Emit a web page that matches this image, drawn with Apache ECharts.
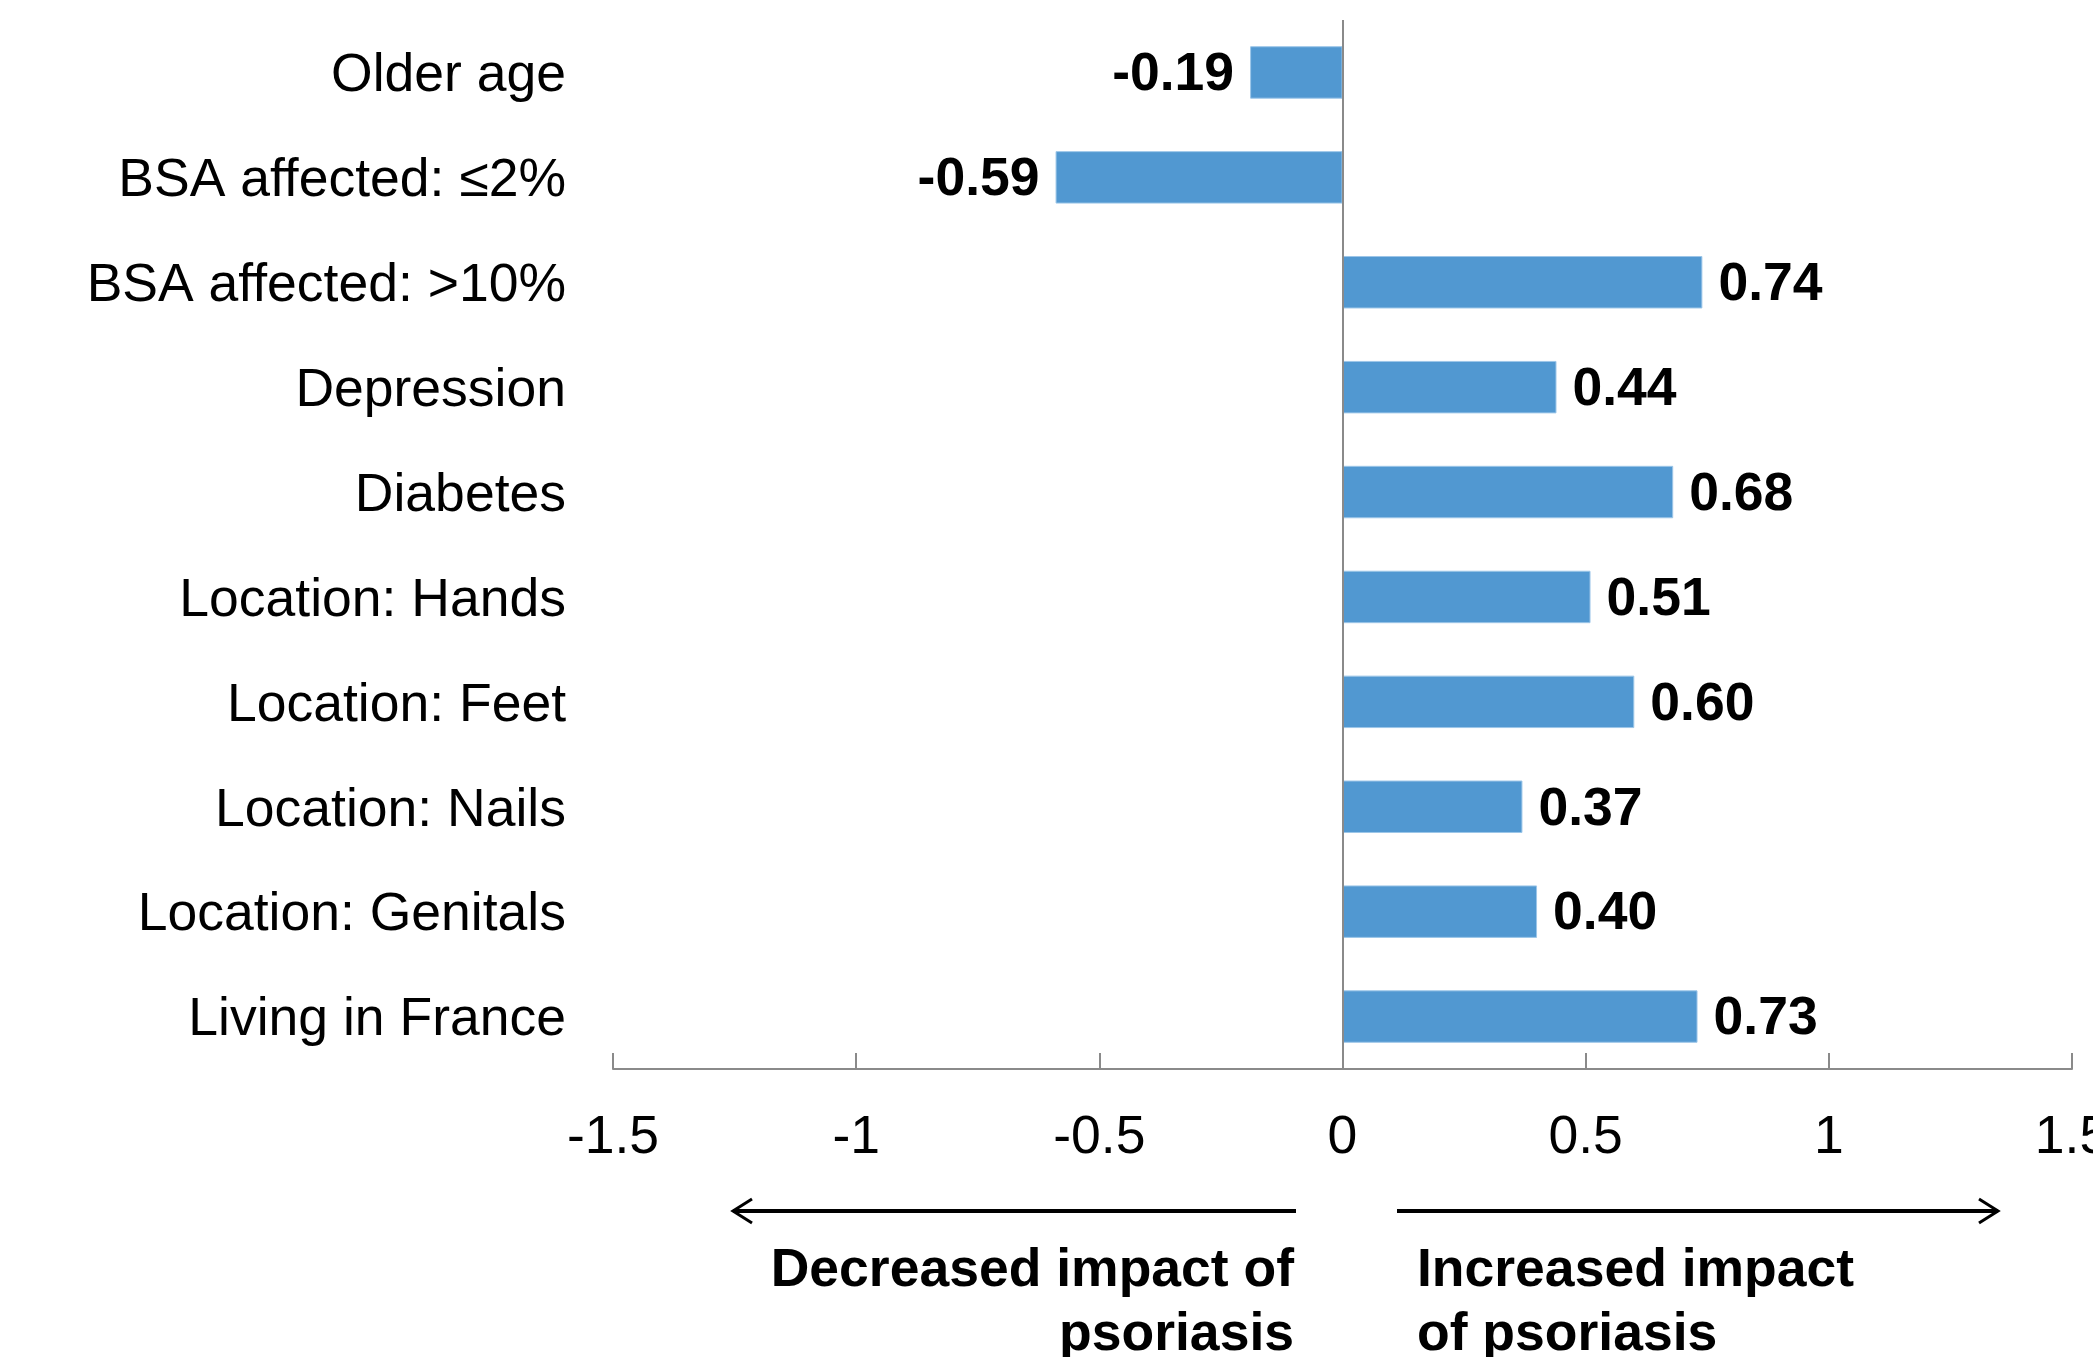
<!DOCTYPE html>
<html>
<head>
<meta charset="utf-8">
<script src="https://cdn.jsdelivr.net/npm/echarts@6/dist/echarts.min.js"></script>
<style>
html,body{margin:0;padding:0;background:#fff;}
#chart{width:2093px;height:1357px;}
</style>
</head>
<body>
<div id="chart"></div>
<script>
const categories = ["Older age", "BSA affected: \u22642%", "BSA affected: >10%", "Depression", "Diabetes", "Location: Hands", "Location: Feet", "Location: Nails", "Location: Genitals", "Living in France"];
const values = [-0.19, -0.59, 0.74, 0.44, 0.68, 0.51, 0.60, 0.37, 0.40, 0.73];
const xTicks = [-1.5, -1, -0.5, 0, 0.5, 1, 1.5];
const leftNote = "Decreased impact of\npsoriasis";
const rightNote = "Increased impact\nof psoriasis";

const FONT = "'Liberation Sans', Arial, sans-serif";
const FS = 53.5;
const chart = echarts.init(document.getElementById('chart'));

const option = {
  backgroundColor: '#ffffff',
  animation: false,
  grid: { left: 613, right: 21, top: 20, bottom: 288, containLabel: false, outerBoundsMode: 'none' },
  xAxis: {
    type: 'value',
    min: xTicks[0],
    max: xTicks[xTicks.length - 1],
    interval: 0.5,
    axisLine: { show: true, onZero: false, lineStyle: { color: '#8a8a8a', width: 2 } },
    axisTick: { show: true, inside: true, length: 16, lineStyle: { color: '#8a8a8a', width: 2 } },
    splitLine: { show: false },
    axisLabel: {
      margin: 42, fontSize: FS, color: '#000', fontFamily: FONT,
      formatter: function (v) { return String(v); }
    }
  },
  yAxis: {
    type: 'category',
    data: categories,
    inverse: true,
    axisLine: { show: false },
    axisTick: { show: false },
    axisLabel: {
      margin: 47, color: '#000', fontFamily: FONT, fontSize: FS,
      formatter: function (v) { return '{c|' + v + '}'; },
      rich: { c: { fontSize: FS, fontFamily: FONT, color: '#000', padding: [8, 0, 0, 0] } }
    }
  },
  series: [{
    type: 'bar',
    barWidth: '50%',
    data: values.map(function (v) {
      return {
        value: v,
        label: { position: v < 0 ? 'left' : 'right' }
      };
    }),
    itemStyle: { color: '#5198d1', borderColor: '#9cc6e8', borderWidth: 1 },
    label: {
      show: true,
      distance: 16,
      offset: [0, 3],
      fontSize: FS,
      fontWeight: 'bold',
      color: '#000',
      fontFamily: FONT,
      formatter: function (p) { return p.value.toFixed(2); }
    },
    markLine: {
      silent: true,
      symbol: 'none',
      label: { show: false },
      lineStyle: { color: '#8a8a8a', width: 2, type: 'solid' },
      data: [{ xAxis: 0 }]
    }
  }],
  graphic: [
    { type: 'polyline', shape: { points: [[1296, 1211], [733, 1211]] }, style: { stroke: '#000', lineWidth: 4 } },
    { type: 'polyline', shape: { points: [[752, 1199], [733, 1211], [752, 1223]] }, style: { stroke: '#000', lineWidth: 3, fill: null } },
    { type: 'polyline', shape: { points: [[1397, 1211], [1998, 1211]] }, style: { stroke: '#000', lineWidth: 4 } },
    { type: 'polyline', shape: { points: [[1979, 1199], [1998, 1211], [1979, 1223]] }, style: { stroke: '#000', lineWidth: 3, fill: null } },
    {
      type: 'text', x: 1294, y: 1239,
      style: { text: leftNote, align: 'right', verticalAlign: 'top', font: 'bold ' + FS + 'px ' + FONT, lineHeight: 64, fill: '#000' }
    },
    {
      type: 'text', x: 1417, y: 1239,
      style: { text: rightNote, align: 'left', verticalAlign: 'top', font: 'bold ' + FS + 'px ' + FONT, lineHeight: 64, fill: '#000' }
    }
  ]
};
chart.setOption(option);
</script>
</body>
</html>
